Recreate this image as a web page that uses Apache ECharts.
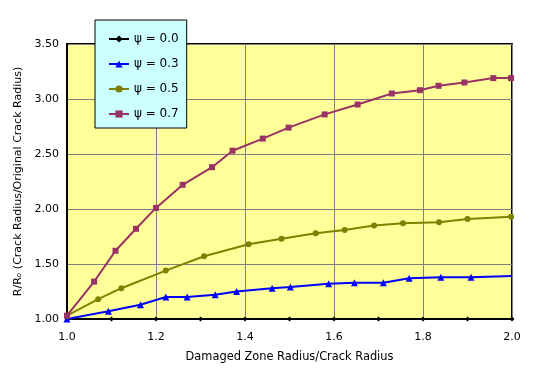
<!DOCTYPE html>
<html><head><meta charset="utf-8">
<script src="https://cdn.jsdelivr.net/npm/echarts@6/dist/echarts.min.js"></script>
<style>html,body{margin:0;padding:0;background:#fff}#c{width:556px;height:380px}</style>
</head><body><div id="c"></div>
<script>
var seriesNames = ['\u03c8 = 0.0', '\u03c8 = 0.3', '\u03c8 = 0.5', '\u03c8 = 0.7'];
var x00 = [1.0, 1.1, 1.2, 1.3, 1.4, 1.5, 1.6, 1.7, 1.8, 1.9, 2.0];
var y00 = [1.0, 1.0, 1.0, 1.0, 1.0, 1.0, 1.0, 1.0, 1.0, 1.0, 1.0];
var x03 = [1.0, 1.093, 1.165, 1.222, 1.27, 1.333, 1.381, 1.461, 1.502, 1.588, 1.646, 1.711, 1.769, 1.840, 1.908, 2.0];
var y03 = [1.0, 1.07, 1.13, 1.20, 1.20, 1.22, 1.25, 1.28, 1.29, 1.32, 1.33, 1.33, 1.37, 1.38, 1.38, 1.39];
var x05 = [1.0, 1.070, 1.122, 1.222, 1.308, 1.408, 1.482, 1.559, 1.624, 1.690, 1.755, 1.836, 1.900, 1.998];
var y05 = [1.03, 1.18, 1.28, 1.44, 1.57, 1.68, 1.73, 1.78, 1.81, 1.85, 1.87, 1.88, 1.91, 1.93];
var x07 = [1.0, 1.061, 1.109, 1.155, 1.200, 1.260, 1.326, 1.372, 1.440, 1.498, 1.579, 1.653, 1.730, 1.793, 1.835, 1.893, 1.958, 1.998];
var y07 = [1.03, 1.34, 1.62, 1.82, 2.01, 2.22, 2.38, 2.53, 2.64, 2.74, 2.86, 2.95, 3.05, 3.08, 3.12, 3.15, 3.19, 3.19];
var xTicks = [1.0, 1.2, 1.4, 1.6, 1.8, 2.0];
var yTicks = [1.00, 1.50, 2.00, 2.50, 3.00, 3.50];

function pairs(xs, ys, noLastSymbol) {
  return xs.map(function (x, i) {
    var item = { value: [x, ys[i]] };
    if (noLastSymbol && i === xs.length - 1) item.symbol = 'none';
    return item;
  });
}
var font = 'DejaVu Sans';
var chart = echarts.init(document.getElementById('c'));
chart.setOption({
  animation: false,
  textStyle: { fontFamily: font },
  grid: { left: 67, right: 44, top: 44, bottom: 61, show: true, backgroundColor: '#ffff99', borderColor: '#000', borderWidth: 2 },
  legend: {
    orient: 'vertical', left: 95, top: 20,
    padding: [13, 8, 8, 13], itemGap: 13, itemWidth: 20, itemHeight: 9,
    backgroundColor: '#ccffff', borderColor: '#000', borderWidth: 1,
    textStyle: { fontFamily: font, fontSize: 12, color: '#000' },
    data: seriesNames
  },
  xAxis: {
    type: 'value', min: 1.0, max: 2.0, interval: 0.2,
    name: 'Damaged Zone Radius/Crack Radius', nameLocation: 'middle', nameGap: 33,
    nameTextStyle: { fontFamily: font, fontSize: 11.4, color: '#000' },
    axisLine: { lineStyle: { color: '#000', width: 2 } },
    axisTick: { show: false },
    axisLabel: { color: '#000', fontSize: 11, margin: 13, formatter: function (v) { return v.toFixed(1); } },
    splitLine: { show: true, lineStyle: { color: '#808080', width: 1 } }
  },
  yAxis: {
    type: 'value', min: 1.0, max: 3.5, interval: 0.5,
    name: 'R/R\u2092 (Crack Radius/Original Crack Radius)', nameLocation: 'middle', nameGap: 41,
    nameTextStyle: { fontFamily: font, fontSize: 11, color: '#000' },
    axisLine: { lineStyle: { color: '#000', width: 2 } },
    axisTick: { show: false },
    axisLabel: { color: '#000', fontSize: 11, margin: 8, formatter: function (v) { return v.toFixed(2); } },
    splitLine: { show: true, lineStyle: { color: '#808080', width: 1 } }
  },
  series: [
    { name: seriesNames[0], type: 'line', data: pairs(x00, y00), symbol: 'diamond', symbolSize: 5, showAllSymbol: true,
      itemStyle: { color: '#000' }, lineStyle: { color: '#000', width: 2 } },
    { name: seriesNames[1], type: 'line', data: pairs(x03, y03, true), symbol: 'triangle', symbolSize: 7, showAllSymbol: true,
      itemStyle: { color: '#0000ff' }, lineStyle: { color: '#0000ff', width: 2 } },
    { name: seriesNames[2], type: 'line', data: pairs(x05, y05), symbol: 'circle', symbolSize: 6, showAllSymbol: true,
      itemStyle: { color: '#808000' }, lineStyle: { color: '#808000', width: 2 } },
    { name: seriesNames[3], type: 'line', data: pairs(x07, y07), symbol: 'rect', symbolSize: 6, showAllSymbol: true,
      itemStyle: { color: '#993366' }, lineStyle: { color: '#993366', width: 2 } }
  ]
});
</script></body></html>
